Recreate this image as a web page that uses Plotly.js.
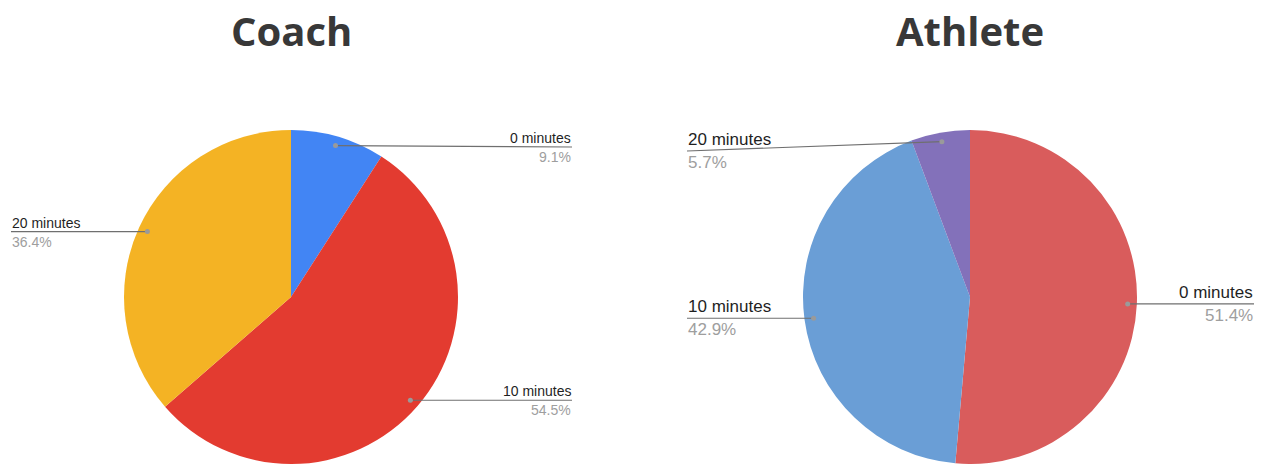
<!DOCTYPE html>
<html>
<head>
<meta charset="utf-8">
<script src="https://cdn.plot.ly/plotly-3.0.1.min.js"></script>
<style>
  html, body { margin: 0; padding: 0; background: #ffffff; }
  #chart { width: 1266px; height: 464px; }
</style>
</head>
<body>
<div id="chart"></div>
<script>
// Time spent on warm-up: answers from coaches and athletes
const sliceLabels = ['0 minutes', '10 minutes', '20 minutes'];

const coachValues = [9.1, 54.5, 36.4];
const coachColors = ['#4285F4', '#E33B30', '#F4B324'];

const athleteValues = [51.4, 42.9, 5.7];
const athleteColors = ['#D95C5C', '#6A9ED6', '#8371BA'];

const titles = ['Coach', 'Athlete'];

const W = 1266, H = 464;

// Pie geometry in pixels (the hidden axes below map 1 unit to 1 pixel)
const pies = [
  {
    title: titles[0], values: coachValues, colors: coachColors,
    cx: 291, cy: 297, r: 167, fontSize: 14, minLineY: 147,
    // where each leader line ends, and which side the text hangs from
    ends: [{x: 572, side: 'right'}, {x: 572, side: 'right'}, {x: 11, side: 'left'}],
    gap: 3
  },
  {
    title: titles[1], values: athleteValues, colors: athleteColors,
    cx: 970, cy: 297, r: 167, fontSize: 17, minLineY: 151,
    ends: [{x: 1254, side: 'right'}, {x: 687, side: 'left'}, {x: 687, side: 'left'}],
    gap: 4
  }
];

const traces = [];
const shapes = [];
const annotations = [];

pies.forEach(p => {
  traces.push({
    type: 'pie',
    labels: sliceLabels,
    values: p.values,
    marker: {colors: p.colors, line: {width: 0}},
    sort: false,
    direction: 'clockwise',
    rotation: 0,
    textinfo: 'none',
    hoverinfo: 'label+percent',
    showlegend: false,
    domain: {
      x: [(p.cx - p.r) / W, (p.cx + p.r) / W],
      y: [1 - (p.cy + p.r) / H, 1 - (p.cy - p.r) / H]
    }
  });

  annotations.push({
    xref: 'x', yref: 'y', x: p.cx, y: 30,
    xanchor: 'center', yanchor: 'middle',
    text: '<b>' + p.title + '</b>',
    showarrow: false, borderpad: 0,
    font: {family: '"Open Sans", Lato, sans-serif', size: 40, color: '#383838', weight: 800}
  });

  const total = p.values.reduce((a, b) => a + b, 0);
  let start = 0;
  p.values.forEach((v, i) => {
    const mid = (start + v / 2) / total * 2 * Math.PI;
    start += v;
    const rr = p.r * 0.945;
    const dx = p.cx + rr * Math.sin(mid);
    const dy = p.cy - rr * Math.cos(mid);
    const end = p.ends[i];
    const ly = Math.max(dy, p.minLineY);

    shapes.push({
      type: 'line', xref: 'x', yref: 'y', layer: 'above',
      x0: dx, y0: dy, x1: end.x, y1: ly,
      line: {color: '#6f6f6f', width: 1.2}
    });
    shapes.push({
      type: 'circle', xref: 'x', yref: 'y', layer: 'above',
      x0: dx - 2.5, x1: dx + 2.5, y0: dy - 2.5, y1: dy + 2.5,
      fillcolor: '#9a9a9a', line: {width: 0}
    });

    annotations.push({
      xref: 'x', yref: 'y', x: end.x, y: ly - p.gap + 3,
      xanchor: end.side, yanchor: 'bottom',
      text: sliceLabels[i], showarrow: false, borderpad: 0,
      font: {family: '"Liberation Sans", Arial, sans-serif', size: p.fontSize, color: '#1f1f1f'}
    });
    annotations.push({
      xref: 'x', yref: 'y', x: end.x, y: ly + 1,
      xanchor: end.side, yanchor: 'top',
      text: v.toFixed(1) + '%', showarrow: false, borderpad: 0,
      font: {family: '"Liberation Sans", Arial, sans-serif', size: p.fontSize, color: '#9e9e9e'}
    });
  });
});

// Invisible pixel-space axes carry the leader lines and labels
traces.push({
  type: 'scatter', x: [0, W], y: [0, H], mode: 'markers',
  marker: {opacity: 0}, hoverinfo: 'skip', showlegend: false
});

const layout = {
  width: W, height: H,
  margin: {l: 0, r: 0, t: 0, b: 0},
  paper_bgcolor: '#ffffff', plot_bgcolor: '#ffffff',
  xaxis: {range: [0, W], visible: false, fixedrange: true, domain: [0, 1]},
  yaxis: {range: [H, 0], visible: false, fixedrange: true, domain: [0, 1]},
  shapes: shapes,
  annotations: annotations,
  showlegend: false
};

Plotly.newPlot('chart', traces, layout, {displayModeBar: false, staticPlot: false});
</script>
</body>
</html>
